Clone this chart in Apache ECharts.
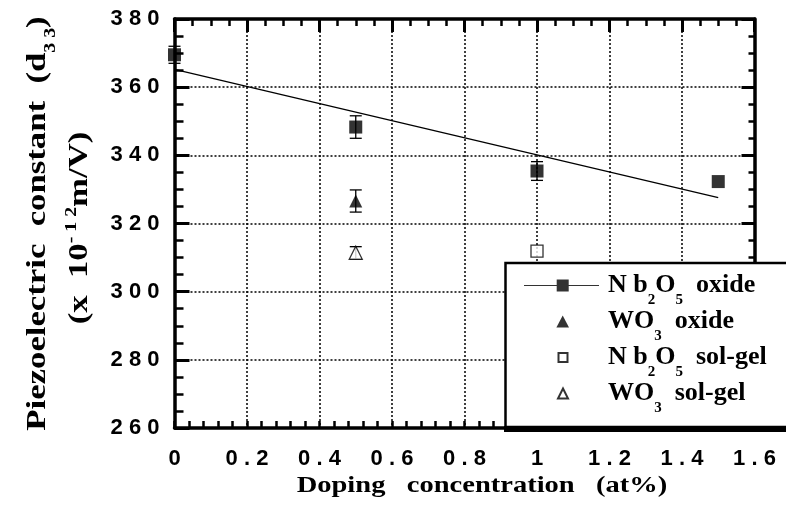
<!DOCTYPE html>
<html><head><meta charset="utf-8">
<script src="https://cdn.jsdelivr.net/npm/echarts@6/dist/echarts.min.js"></script>
<style>html,body{margin:0;padding:0;background:#fff}#c{width:786px;height:506px}</style>
</head><body><div id="c"></div>
<script>
// ---- data ----
const xTicks = [0, 0.2, 0.4, 0.6, 0.8, 1, 1.2, 1.4, 1.6];
const xTickLabels = ['0', '0.2', '0.4', '0.6', '0.8', '1', '1.2', '1.4', '1.6'];
const yTicks = [260, 280, 300, 320, 340, 360, 380];
const yTickLabels = ['260', '280', '300', '320', '340', '360', '380'];

const nbOxideX = [0, 0.5, 1, 1.5];
const nbOxideY = [369.5, 348.3, 335.4, 332.3];
const nbOxideErr = [2.5, 3.3, 2.75, 0];

const woOxideX = [0.5];
const woOxideY = [326.6];
const woOxideErr = [3.25];

const nbSolX = [1];
const nbSolY = [311.9];

const woSolX = [0.5];
const woSolY = [311.4];
const woSolErr = [1.8];

const fitX = [0, 1.5];
const fitY = [365.2, 327.6];

const seriesNames = ['Nb2O5 oxide', 'WO3 oxide', 'Nb2O5 sol-gel', 'WO3 sol-gel'];

// ---- helpers ----
const zip = (xs, ys) => xs.map((x, i) => [x, ys[i]]);
const errData = (xs, ys, es) => xs.map((x, i) => [x, ys[i] - es[i], ys[i] + es[i]]).filter((d, i) => es[i] > 0);
const spaced = s => s.split('').join(' ');
const labelFor = (ticks, labels) => v => {
  const i = ticks.findIndex(t => Math.abs(t - v) < 1e-9);
  return i >= 0 ? spaced(labels[i]) : '';
};

const serif = 'Liberation Serif';
const sans = 'Liberation Sans';
const BLACK = '#000';

function errRender(params, api) {
  const x = api.value(0), lo = api.value(1), hi = api.value(2);
  const p1 = api.coord([x, hi]), p2 = api.coord([x, lo]);
  const w = 6, st = { stroke: BLACK, lineWidth: 1.3 };
  return {
    type: 'group', children: [
      { type: 'line', shape: { x1: p1[0], y1: p1[1], x2: p2[0], y2: p2[1] }, style: st },
      { type: 'line', shape: { x1: p1[0] - w, y1: p1[1], x2: p1[0] + w, y2: p1[1] }, style: st },
      { type: 'line', shape: { x1: p2[0] - w, y1: p2[1], x2: p2[0] + w, y2: p2[1] }, style: st }
    ]
  };
}

const legendRichText = {
  'Nb2O5 oxide': '{a|N b}{s|2}{t|O}{s|5}{t|  oxide}',
  'WO3 oxide': '{a|WO}{s|3}{t|  oxide}',
  'Nb2O5 sol-gel': '{a|N b}{s|2}{t|O}{s|5}{t|  sol-gel}',
  'WO3 sol-gel': '{a|WO}{s|3}{t|  sol-gel}'
};

const tStyle = { fontFamily: serif, fontWeight: 'bold', fontSize: 26, color: BLACK, lineHeight: 36, verticalAlign: 'middle' };
const legendRich = {
  t: tStyle,
  a: Object.assign({}, tStyle, { padding: [0, 0, 0, 4] }),
  s: { fontFamily: serif, fontWeight: 'bold', fontSize: 15, color: BLACK, lineHeight: 15, verticalAlign: 'middle', padding: [30, 0, 0, 0] }
};

const yT = { fontFamily: serif, fontWeight: 'bold', fontSize: 28, fill: BLACK, lineHeight: 36, verticalAlign: 'middle' };
const yTitleRich = {
  t: yT,
  s: { fontFamily: serif, fontWeight: 'bold', fontSize: 16, fill: BLACK, lineHeight: 16, verticalAlign: 'middle', padding: [26, 0, 0, 0] },
  p: { fontFamily: serif, fontWeight: 'bold', fontSize: 16, fill: BLACK, lineHeight: 16, verticalAlign: 'middle', padding: [0, 0, 16, 0] }
};

const axisLineStyle = { color: BLACK, width: 3.5 };
const gridLine = { show: true, lineStyle: { type: [2, 2], color: BLACK, width: 1.5 } };

const chart = echarts.init(document.getElementById('c'), null, { renderer: 'canvas' });
chart.setOption({
  animation: false,
  backgroundColor: '#fff',
  grid: { left: 174.5, right: 31.5, top: 19, bottom: 78, containLabel: false, outerBoundsMode: 'none' },
  xAxis: [
    {
      type: 'value', position: 'bottom', min: 0, max: 1.6, interval: 0.2,
      axisLine: { show: true, onZero: false, lineStyle: axisLineStyle },
      axisTick: { show: true, inside: true, length: 7, lineStyle: { color: BLACK, width: 2.5 } },
      minorTick: { show: true, splitNumber: 5, length: 7, lineStyle: { color: BLACK, width: 2.5 } },
      splitLine: gridLine,
      axisLabel: { formatter: labelFor(xTicks, xTickLabels), fontFamily: sans, fontWeight: 'bold', fontSize: 22, color: BLACK, margin: 20 }
    },
    {
      type: 'value', position: 'top', min: 0, max: 1.6, interval: 0.2,
      axisLine: { show: true, onZero: false, lineStyle: axisLineStyle },
      axisTick: { show: true, inside: true, length: 13, lineStyle: { color: BLACK, width: 3 } },
      minorTick: { show: true, splitNumber: 4, length: 7, lineStyle: { color: BLACK, width: 2.5 } },
      splitLine: { show: false },
      axisLabel: { show: false }
    }
  ],
  yAxis: [
    {
      type: 'value', position: 'left', min: 260, max: 380, interval: 20,
      axisLine: { show: true, onZero: false, lineStyle: axisLineStyle },
      axisTick: { show: true, inside: true, length: 15, lineStyle: { color: BLACK, width: 3 } },
      minorTick: { show: true, splitNumber: 4, length: 9, lineStyle: { color: BLACK, width: 2.5 } },
      splitLine: gridLine,
      axisLabel: { formatter: labelFor(yTicks, yTickLabels), fontFamily: sans, fontWeight: 'bold', fontSize: 22, color: BLACK, margin: 15 }
    },
    {
      type: 'value', position: 'right', min: 260, max: 380, interval: 20,
      axisLine: { show: true, onZero: false, lineStyle: axisLineStyle },
      axisTick: { show: true, inside: true, length: 13, lineStyle: { color: BLACK, width: 3 } },
      minorTick: { show: true, splitNumber: 4, length: 6, lineStyle: { color: BLACK, width: 2.5 } },
      splitLine: { show: false },
      axisLabel: { show: false }
    }
  ],
  legend: {
    orient: 'vertical', left: 523, top: 263, padding: 0, itemGap: -9,
    itemWidth: 75, itemHeight: 12, selectedMode: false, z: 20,
    data: [
      { name: seriesNames[0], icon: 'path://M0,5.4L75,5.4L75,6.6L0,6.6Z M32.7,0L44.7,0L44.7,12L32.7,12Z' },
      { name: seriesNames[1], icon: 'path://M0,0M75,12M38.7,0L45,12L32.4,12Z' },
      { name: seriesNames[2], icon: 'path://M0,0M75,12M34.5,1.5L43.5,1.5L43.5,10.5L34.5,10.5Z' },
      { name: seriesNames[3], icon: 'path://M0,0M75,12M39,1L44,11L34,11Z' }
    ],
    formatter: n => legendRichText[n],
    textStyle: { fontFamily: serif, fontWeight: 'bold', fontSize: 26, lineHeight: 36, color: BLACK, rich: legendRich }
  },
  graphic: [
    { type: 'rect', z: 10, shape: { x: 505.5, y: 263, width: 320, height: 164 }, style: { fill: '#fff', stroke: BLACK, lineWidth: 2.5 } },
    { type: 'rect', z: 11, shape: { x: 504, y: 426, width: 320, height: 6 }, style: { fill: BLACK } },
    {
      type: 'text', z: 5, x: 482, y: 486, scaleX: 1.24,
      style: { text: 'Doping   concentration   (at%)', fontFamily: serif, fontWeight: 'bold', fontSize: 23, fill: BLACK, align: 'center', verticalAlign: 'middle' }
    },
    {
      type: 'text', z: 5, x: 38, y: 223.5, rotation: Math.PI / 2, scaleX: 1.24,
      style: { text: '{t|Piezoelectric  constant  (d}{s|3 3}{t|)}', rich: yTitleRich, fontFamily: serif, fontWeight: 'bold', fontSize: 28, fill: BLACK, align: 'center', verticalAlign: 'middle' }
    },
    {
      type: 'text', z: 5, x: 80, y: 228, rotation: Math.PI / 2, scaleX: 1.24,
      style: { text: '{t|(x  10}{p|- 1 2}{t|m/V)}', rich: yTitleRich, fontFamily: serif, fontWeight: 'bold', fontSize: 28, fill: BLACK, align: 'center', verticalAlign: 'middle' }
    }
  ],
  series: [
    {
      name: 'fit', type: 'line', data: zip(fitX, fitY), symbol: 'none', silent: true,
      lineStyle: { color: BLACK, width: 1.3 }, z: 2
    },
    {
      name: 'err', type: 'custom', renderItem: errRender, silent: true, z: 3,
      data: errData(nbOxideX, nbOxideY, nbOxideErr)
        .concat(errData(woOxideX, woOxideY, woOxideErr))
        .concat(errData(woSolX, woSolY, woSolErr)),
      encode: { x: 0, y: [1, 2] }
    },
    {
      name: seriesNames[0], type: 'scatter', data: zip(nbOxideX, nbOxideY), symbol: 'rect', symbolSize: 13, z: 4,
      itemStyle: { color: BLACK }
    },
    {
      name: seriesNames[1], type: 'scatter', data: zip(woOxideX, woOxideY), symbol: 'triangle', symbolSize: 13, z: 4,
      itemStyle: { color: BLACK }
    },
    {
      name: seriesNames[2], type: 'scatter', data: zip(nbSolX, nbSolY), symbol: 'rect', symbolSize: 12, z: 4,
      itemStyle: { color: '#fff', borderColor: BLACK, borderWidth: 1.3 }
    },
    {
      name: seriesNames[3], type: 'scatter', data: zip(woSolX, woSolY), symbol: 'triangle', symbolSize: 13, z: 4,
      itemStyle: { color: '#fff', borderColor: BLACK, borderWidth: 1.3 }
    }
  ]
});
</script>
</body></html>
